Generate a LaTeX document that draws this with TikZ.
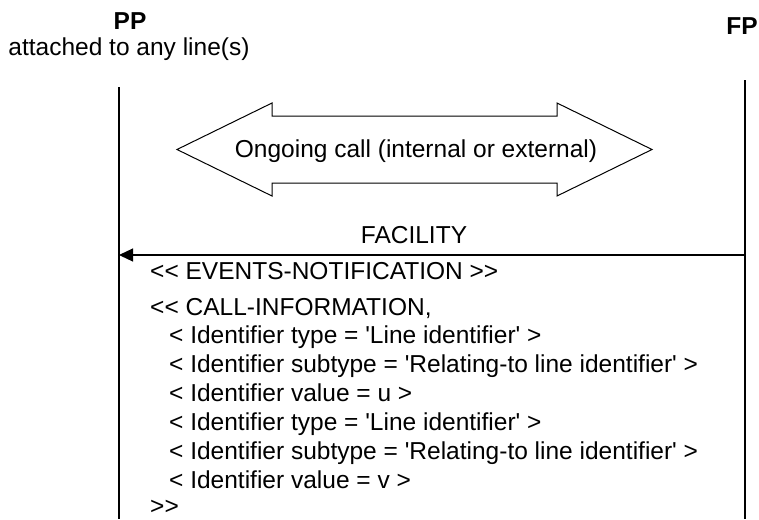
\documentclass[tikz,border=0pt]{standalone}
\usepackage{fontspec}
\setmainfont{Liberation Sans}[Ligatures=TeXOff]
\usetikzlibrary{arrows.meta}
\tikzset{
  txt/.style={inner sep=0pt, font=\fontsize{24.5}{28}\selectfont},
  boldtxt/.style={inner sep=0pt, font=\fontsize{24.5}{28}\selectfont\bfseries},
  msgline/.style={anchor=base west, txt},
  lifeline/.style={line width=1.3pt},
  bigarrow/.style={line width=1pt, line join=miter},
  msgarrow/.style={line width=1.2pt, -{Triangle[length=14pt,width=13pt]}}
}
\begin{document}
\begin{tikzpicture}[x=1pt,y=-1pt]
\useasboundingbox (0,0) rectangle (759,519);
% headers
\node[boldtxt, anchor=base] (pp) at (130,30) {PP};
\node[txt, anchor=base] (ppsub) at (129,56) {attached to any line(s)};
\node[boldtxt, anchor=base] (fp) at (742,35) {FP};
% lifelines
\coordinate (ppTop) at (119,87);
\coordinate (ppBot) at (119,519);
\coordinate (fpTop) at (745,80);
\coordinate (fpBot) at (745,519);
\draw[lifeline] (ppTop) -- (ppBot);
\draw[lifeline] (fpTop) -- (fpBot);
% double arrow
\draw[bigarrow] (177,149.5) -- (272,103) -- (272,116) -- (557,116) -- (557,103)
  -- (652,149.5) -- (557,196) -- (557,183) -- (272,183) -- (272,196) -- cycle;
\node[txt, anchor=base] (call) at (416,157) {Ongoing call (internal or external)};
% FACILITY message
\coordinate (fpA) at (745,255);
\coordinate (ppA) at (119,255);
\draw[msgarrow] (fpA) -- (ppA);
\node[txt, anchor=base] (fac) at (414,243) {FACILITY};
% message contents
\node[msgline] (l1) at (150,279) {<< EVENTS-NOTIFICATION >>};
\node[msgline] (l2) at (150,315) {<< CALL-INFORMATION,};
\node[msgline] (l3) at (169,343.5) {< Identifier type = 'Line identifier' >};
\node[msgline] (l4) at (169,372.5) {< Identifier subtype = 'Relating-to line identifier' >};
\node[msgline] (l5) at (169,401.5) {< Identifier value = u >};
\node[msgline] (l6) at (169,430.5) {< Identifier type = 'Line identifier' >};
\node[msgline] (l7) at (169,459.5) {< Identifier subtype = 'Relating-to line identifier' >};
\node[msgline] (l8) at (169,488.5) {< Identifier value = v >};
\node[msgline] (l9) at (150,514.5) {>>};
\end{tikzpicture}
\end{document}
